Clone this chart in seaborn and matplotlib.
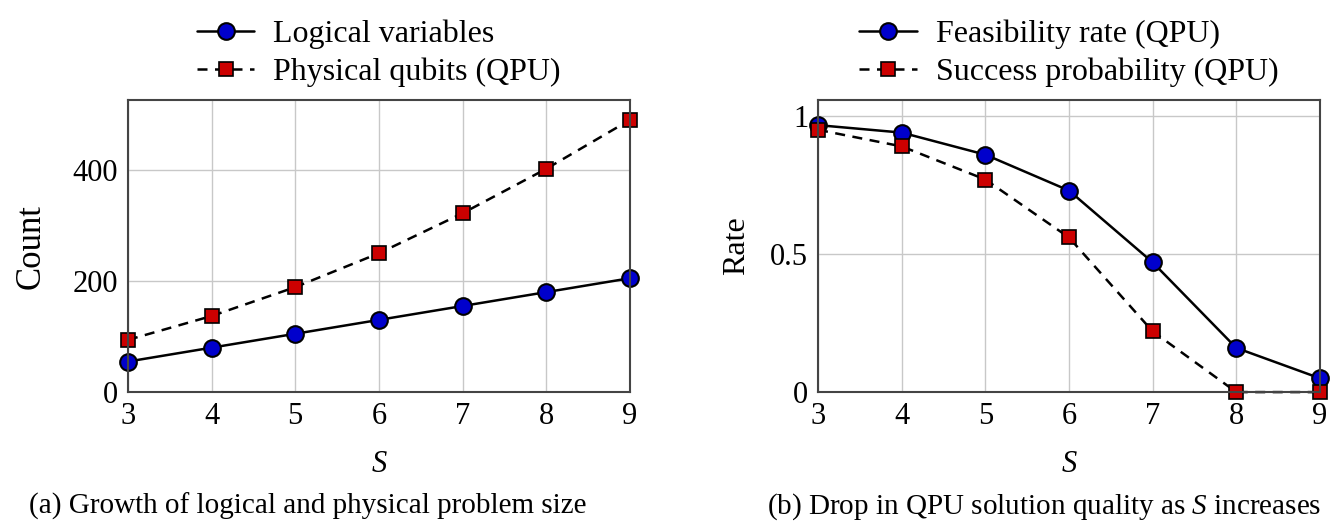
import numpy as np
import pandas as pd
import matplotlib
matplotlib.use("Agg")
import matplotlib.pyplot as plt
import seaborn as sns

# data
S = [3, 4, 5, 6, 7, 8, 9]
logical_vars = [55, 80, 105, 130, 155, 180, 205]
physical_qubits = [94, 137, 189, 250, 322, 402, 490]
feasibility = [0.967, 0.94, 0.86, 0.73, 0.47, 0.16, 0.05]
success = [0.95, 0.89, 0.77, 0.56, 0.22, 0.0, 0.0]

sns.set_style("whitegrid")
plt.rcParams["font.family"] = ["Liberation Serif", "DejaVu Serif"]
plt.rcParams["mathtext.fontset"] = "custom"
plt.rcParams["mathtext.rm"] = "Liberation Serif"
plt.rcParams["mathtext.it"] = "Liberation Serif:italic"
plt.rcParams["text.color"] = "black"
plt.rcParams["axes.labelcolor"] = "black"
plt.rcParams["xtick.color"] = "black"
plt.rcParams["ytick.color"] = "black"

blue = "#0000cc"
red = "#cc0000"

fig = plt.figure(figsize=(13.4, 5.32), dpi=100)
ax1 = fig.add_axes([0.0955, 0.263, 0.3745, 0.549])
ax2 = fig.add_axes([0.6105, 0.263, 0.3745, 0.549])

circ = dict(marker="o", markersize=12, markerfacecolor=blue,
            markeredgecolor="black", markeredgewidth=1.5, color="black", linewidth=1.8)
sq = dict(marker="s", markersize=10, markerfacecolor=red,
          markeredgecolor="black", markeredgewidth=1.2, color="black", linewidth=1.8,
          linestyle=(0, (4, 3)))

sns.lineplot(x=S, y=logical_vars, ax=ax1, label="Logical variables", **circ)
sns.lineplot(x=S, y=physical_qubits, ax=ax1, label="Physical qubits (QPU)", **sq)
sns.lineplot(x=S, y=feasibility, ax=ax2, label="Feasibility rate (QPU)", **circ)
sns.lineplot(x=S, y=success, ax=ax2, label="Success probability (QPU)", **sq)

ax1.set_xlim(3, 9)
ax1.set_ylim(0, 526)
ax1.set_yticks([0, 200, 400])
ax1.set_ylabel("Count", fontsize=25, labelpad=18)

ax2.set_xlim(3, 9)
ax2.set_ylim(0, 1.058)
ax2.set_yticks([0, 0.5, 1])
ax2.set_yticklabels(["0", "0.5", "1"])
ax2.set_ylabel("Rate", fontsize=23, labelpad=14)

for ax in (ax1, ax2):
    ax.set_xticks(S)
    ax.set_xlabel("S", fontsize=22, fontstyle="italic", labelpad=14)
    ax.tick_params(labelsize=22, length=0, pad=7)
    ax.grid(True, color="#c8c8c8", linewidth=1.0)
    for sp in ax.spines.values():
        sp.set_color("#444444")
        sp.set_linewidth(1.5)
    for l in ax.lines:
        l.set_clip_on(False)
    ax.legend(loc="lower center", bbox_to_anchor=(0.5, 0.98), frameon=False,
              fontsize=23, handlelength=1.8, handletextpad=0.6, labelspacing=0.25,
              borderaxespad=0.2)

fig.text(0.23, 0.035, "(a) Growth of logical and physical problem size",
         ha="center", fontsize=21)
fig.text(0.779, 0.035, "(b) Drop in QPU solution quality as $S$ increases",
         ha="center", fontsize=21)

fig.savefig("out.png", dpi=100)
